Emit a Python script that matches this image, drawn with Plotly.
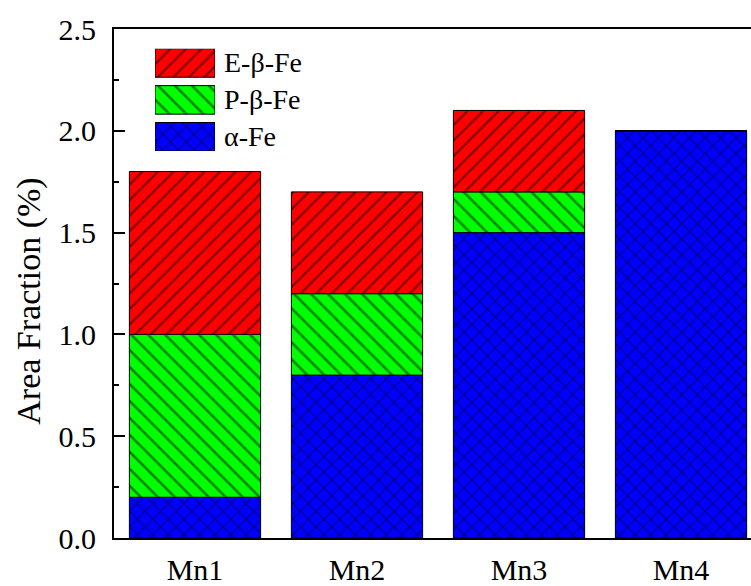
import numpy as np
import plotly.graph_objects as go

# Area fraction of each phase per alloy (%)
samples = ["Mn1", "Mn2", "Mn3", "Mn4"]
alpha_fe = [0.2, 0.8, 1.5, 2.0]
p_beta_fe = [0.8, 0.4, 0.2, 0.0]
e_beta_fe = [0.8, 0.5, 0.4, 0.0]

y_ticks = [0.0, 0.5, 1.0, 1.5, 2.0, 2.5]
y_ticklabels = ["0.0", "0.5", "1.0", "1.5", "2.0", "2.5"]

FONT = "Liberation Serif"
W, H = 751, 586
ML, MR, MT, MB = 114, 0, 29, 40
PW, PH = W - ML - MR, H - MT - MB
SOLID = 0.2

# series drawn bottom-up; legend lists them top-down
series = [
    dict(name="α-Fe", values=alpha_fe, color="#0000FF", shape="x", size=11),
    dict(name="P-β-Fe", values=p_beta_fe, color="#00FF00", shape="\\", size=12),
    dict(name="E-β-Fe", values=e_beta_fe, color="#FF0000", shape="/", size=11),
]


def bar_marker(s):
    return dict(color=s["color"], line=dict(color="black", width=1),
                pattern=dict(shape=s["shape"], fgcolor="black",
                             bgcolor=s["color"], size=s["size"],
                             solidity=SOLID, fillmode="overlay"))


fig = go.Figure()

# stacked bars with explicit bases
base = np.zeros(len(samples))
for s in series:
    vals = np.array(s["values"], dtype=float)
    fig.add_trace(go.Bar(
        x=list(range(len(samples))), y=vals, base=base.copy(), width=0.81,
        name=s["name"], showlegend=False, marker=bar_marker(s),
    ))
    base = base + vals

# legend block: large patterned swatches on an overlay axis, labels as annotations
sw_left, sw_right, sw_top, sw_h, sw_pitch = 155, 215, 49, 29, 37.5
n = len(series)
block_bottom = sw_top + sw_pitch * (n - 1) + sw_h
for i, s in enumerate(reversed(series)):
    row_top = sw_top + i * sw_pitch
    fig.add_trace(go.Bar(
        x=[0.5], y=[sw_h], base=[block_bottom - row_top - sw_h], width=1,
        xaxis="x2", yaxis="y2", showlegend=False, hoverinfo="skip",
        marker=bar_marker(s),
    ))
    fig.add_annotation(
        text=s["name"], xref="paper", yref="paper",
        x=(sw_right + 7 - ML) / PW, y=(H - MB - (row_top + sw_h / 2)) / PH,
        xanchor="left", yanchor="middle", showarrow=False,
        font=dict(family=FONT, size=28, color="black"),
    )

# y-axis title
fig.add_annotation(
    text="Area Fraction (%)", xref="paper", yref="paper",
    x=(29 - ML) / PW, y=(H - MB - 305) / PH, textangle=-90,
    xanchor="center", yanchor="middle", showarrow=False,
    font=dict(family=FONT, size=34, color="black"),
)

fig.update_layout(
    width=W, height=H,
    margin=dict(l=ML, r=MR, t=MT, b=MB, pad=0),
    paper_bgcolor="white", plot_bgcolor="white",
    barmode="overlay", showlegend=False,
    font=dict(family=FONT, size=30, color="black"),
    xaxis=dict(
        range=[-0.5, 3.432], tickmode="array",
        tickvals=list(range(len(samples))), ticktext=samples,
        ticks="", showline=True, mirror=True, linecolor="black", linewidth=2,
        showgrid=False, zeroline=False, ticklabelstandoff=4,
        tickfont=dict(family=FONT, size=30, color="black"),
    ),
    yaxis=dict(
        range=[0, 2.5], tickmode="array", tickvals=y_ticks, ticktext=y_ticklabels,
        ticks="inside", ticklen=11, tickwidth=2, tickcolor="black",
        minor=dict(ticks="inside", ticklen=5, tickwidth=2, tickcolor="black",
                   dtick=0.25, tick0=0, showgrid=False),
        showline=True, mirror=False, linecolor="black", linewidth=2,
        showgrid=False, zeroline=False, ticklabelstandoff=10,
        tickfont=dict(family=FONT, size=30, color="black"),
    ),
    xaxis2=dict(domain=[(sw_left - ML) / PW, (sw_right - ML) / PW],
                range=[0, 1], visible=False, anchor="y2", fixedrange=True),
    yaxis2=dict(domain=[(H - MB - block_bottom) / PH, (H - MB - sw_top) / PH],
                range=[0, block_bottom - sw_top], visible=False, anchor="x2",
                fixedrange=True),
)

fig.write_html("out.html")
